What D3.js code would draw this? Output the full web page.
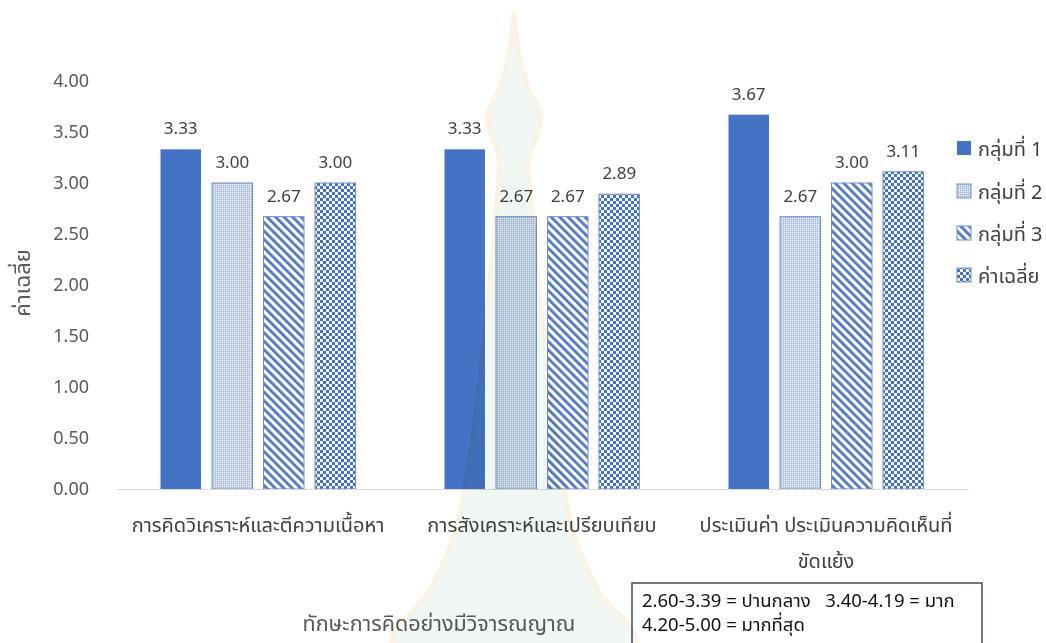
<!DOCTYPE html>
<html>
<head>
<meta charset="utf-8">
<script src="https://cdn.jsdelivr.net/npm/d3@7"></script>
<style>
  html, body { margin: 0; padding: 0; background: #ffffff; }
  svg { display: block; }
  text { font-family: "Noto Sans", "Noto Sans Thai", "DejaVu Sans", sans-serif; }
  .watermark { mix-blend-mode: multiply; }
</style>
</head>
<body>
<svg id="chart" width="1046" height="643"></svg>
<script>
// Critical-thinking skill scores by group
const categories = [
  ["การคิดวิเคราะห์และตีความเนื้อหา"],
  ["การสังเคราะห์และเปรียบเทียบ"],
  ["ประเมินค่า ประเมินความคิดเห็นที่", "ขัดแย้ง"]
];
const seriesNames = ["กลุ่มที่ 1", "กลุ่มที่ 2", "กลุ่มที่ 3", "ค่าเฉลี่ย"];
const group1 = [3.33, 3.33, 3.67];
const group2 = [3.00, 2.67, 2.67];
const group3 = [2.67, 2.67, 3.00];
const average = [3.00, 2.89, 3.11];
const yTicks = [0, 0.5, 1, 1.5, 2, 2.5, 3, 3.5, 4];
const yTitle = "ค่าเฉลี่ย";
const xTitle = "ทักษะการคิดอย่างมีวิจารณญาณ";
const noteLines = ["2.60-3.39 = ปานกลาง   3.40-4.19 = มาก", "4.20-5.00 = มากที่สุด"];

const seriesValues = [group1, group2, group3, average];
const blue = "#4472c4";

const svg = d3.select("#chart");
const defs = svg.append("defs");

// outline of the faint spire emblem (left half, mirrored for the right)
const spireLeft = [[514, 12], [509, 55], [499, 90], [488, 113], [491, 135], [499, 157],
  [496, 210], [490, 280], [483, 350], [475, 420], [466, 480], [452, 540], [430, 590], [392, 643]];
const spire = spireLeft.concat(spireLeft.slice().reverse().map(([px, py]) => [1028 - px, py]));

// fine dotted fill
const pDot = defs.append("pattern").attr("id", "pat-dots")
  .attr("width", 4).attr("height", 4).attr("patternUnits", "userSpaceOnUse");
pDot.append("rect").attr("width", 4).attr("height", 4).attr("fill", "#bccbea");
pDot.append("rect").attr("width", 1).attr("height", 1).attr("fill", "#ffffff");
pDot.append("rect").attr("x", 2).attr("y", 2).attr("width", 1).attr("height", 1).attr("fill", "#ffffff");
pDot.append("rect").attr("x", 2).attr("y", 0).attr("width", 1).attr("height", 1).attr("fill", "#eef2fa");
pDot.append("rect").attr("x", 0).attr("y", 2).attr("width", 1).attr("height", 1).attr("fill", "#eef2fa");
pDot.append("rect").attr("x", 1).attr("y", 1).attr("width", 1).attr("height", 1).attr("fill", "#9fb4de");
pDot.append("rect").attr("x", 3).attr("y", 3).attr("width", 1).attr("height", 1).attr("fill", "#9fb4de");

// diagonal stripes
const pDiag = defs.append("pattern").attr("id", "pat-diag")
  .attr("width", 6).attr("height", 6).attr("patternUnits", "userSpaceOnUse")
  .attr("patternTransform", "rotate(-45)");
pDiag.append("rect").attr("width", 6).attr("height", 6).attr("fill", "#ffffff");
pDiag.append("rect").attr("width", 2.8).attr("height", 6).attr("fill", "#4f78c4");

// checkerboard
const pChk = defs.append("pattern").attr("id", "pat-check")
  .attr("width", 6).attr("height", 6).attr("patternUnits", "userSpaceOnUse");
pChk.append("rect").attr("width", 6).attr("height", 6).attr("fill", "#f4f7fc");
pChk.append("rect").attr("width", 3).attr("height", 3).attr("fill", blue);
pChk.append("rect").attr("x", 3).attr("y", 3).attr("width", 3).attr("height", 3).attr("fill", blue);

const fills = [blue, "url(#pat-dots)", "url(#pat-diag)", "url(#pat-check)"];

// scales
const x0 = d3.scaleBand().domain(d3.range(categories.length)).range([116, 968]).padding(0);
const x1 = d3.scaleBand().domain(d3.range(seriesNames.length))
  .range([0, x0.bandwidth()]).paddingInner(0.214).paddingOuter(0.864);
const y = d3.scaleLinear().domain([0, 4]).range([489, 81]);

// y axis labels (no line)
const yAxis = svg.append("g").attr("transform", "translate(89,0)")
  .call(d3.axisLeft(y).tickValues(yTicks).tickFormat(d3.format(".2f")).tickSize(0).tickPadding(0));
yAxis.select(".domain").remove();
yAxis.selectAll("text").attr("font-size", 18).attr("fill", "#595959")
  .style("font-family", "\"Noto Sans\", \"DejaVu Sans\", sans-serif");

// bars
const groups = svg.append("g").selectAll("g").data(categories).join("g")
  .attr("transform", (d, i) => `translate(${x0(i)},0)`);

groups.each(function (cat, ci) {
  const g = d3.select(this);
  seriesValues.forEach((vals, si) => {
    const v = vals[ci];
    g.append("rect")
      .attr("x", x1(si)).attr("width", x1.bandwidth())
      .attr("y", y(v)).attr("height", y(0) - y(v))
      .attr("fill", fills[si])
      .attr("stroke", si === 0 ? "none" : "#6f8fcf")
      .attr("stroke-width", 1);
    g.append("text")
      .attr("x", x1(si) + x1.bandwidth() / 2)
      .attr("y", y(v) - 15)
      .attr("text-anchor", "middle")
      .attr("font-size", 17).attr("fill", "#404040")
      .text(d3.format(".2f")(v));
  });
});

// x axis baseline
const xAxis = svg.append("g").attr("transform", `translate(0,${y(0)})`)
  .call(d3.axisBottom(x0).tickSize(0).tickFormat(() => ""));
xAxis.select(".domain").attr("stroke", "#d9d9d9").attr("stroke-width", 1);

// category labels
categories.forEach((lines, i) => {
  const cx = x0(i) + x0.bandwidth() / 2;
  const t = svg.append("text")
    .attr("x", cx).attr("y", 532)
    .attr("text-anchor", "middle").attr("font-size", 20).attr("fill", "#404040");
  lines.forEach((ln, k) => {
    t.append("tspan").attr("x", cx).attr("dy", k === 0 ? 0 : 36).text(ln);
  });
});

// axis titles
svg.append("text")
  .attr("transform", `translate(24,283) rotate(-90)`)
  .attr("text-anchor", "middle").attr("dominant-baseline", "middle")
  .attr("font-size", 22).attr("fill", "#595959").text(yTitle);

svg.append("text")
  .attr("x", 439).attr("y", 631)
  .attr("text-anchor", "middle").attr("font-size", 21.5).attr("fill", "#595959").text(xTitle);

// legend
const legendY = [148, 191, 233, 275];
const legend = svg.append("g").selectAll("g").data(seriesNames).join("g")
  .attr("transform", (d, i) => `translate(957,${legendY[i]})`);
legend.append("rect").attr("x", 0).attr("y", -7).attr("width", 14).attr("height", 14)
  .attr("fill", (d, i) => fills[i]).attr("stroke", (d, i) => i === 0 ? "none" : "#6f8fcf");
legend.append("text").attr("x", 21).attr("y", 0).attr("dominant-baseline", "central")
  .attr("font-size", 20).attr("fill", "#404040").text(d => d);

// rating scale note
svg.append("rect").attr("x", 632).attr("y", 583).attr("width", 350).attr("height", 75)
  .attr("fill", "#ffffff").attr("stroke", "#3a4e66").attr("stroke-width", 1.5);
noteLines.forEach((ln, i) => {
  svg.append("text").attr("x", 642).attr("y", 607 + i * 24)
    .attr("font-size", 18.5).attr("fill", "#111111")
    .style("white-space", "pre").text(ln);
});

// emblem overlay, blended so it only tints what lies beneath
const wm = svg.append("g").attr("class", "watermark").attr("pointer-events", "none");
wm.append("path")
  .attr("d", d3.line().curve(d3.curveCatmullRom)(spire))
  .attr("fill", "#f1f7f2").attr("stroke", "#fbf4e6").attr("stroke-width", 5);
</script>
</body>
</html>
